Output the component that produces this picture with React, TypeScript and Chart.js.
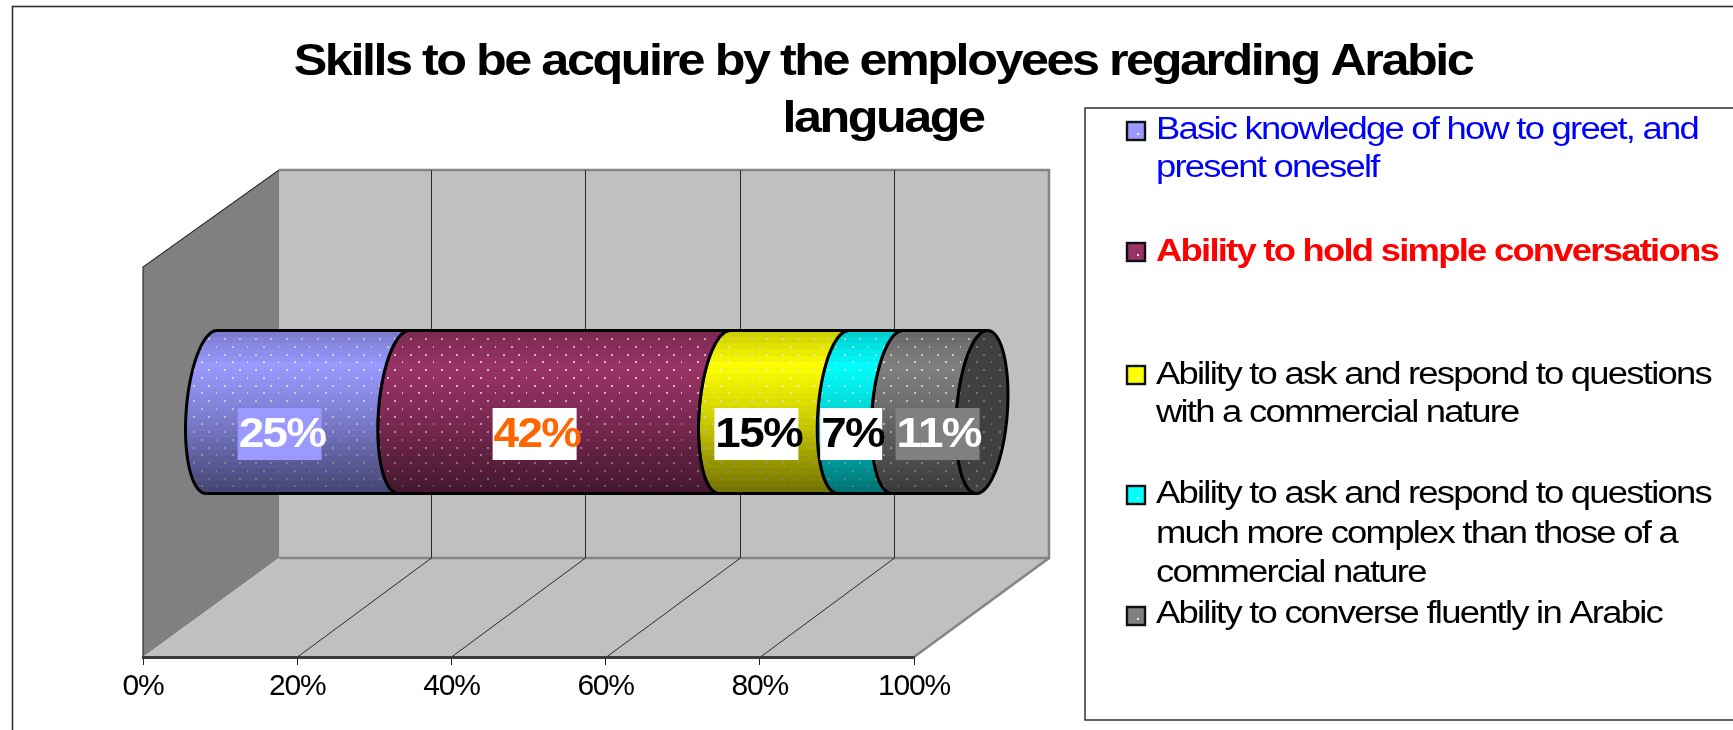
import React, { useEffect, useRef } from "react";
import { Chart, registerables } from "chart.js";

Chart.register(...registerables);

const titleLines = ["Skills to be acquire by the employees regarding Arabic", "language"];
const legendLines = [
  ["Basic knowledge of how to greet, and", "present oneself"],
  ["Ability to hold simple conversations"],
  ["Ability to ask and respond to questions", "with a commercial nature"],
  ["Ability to ask and respond to questions", "much more complex than those of a", "commercial nature"],
  ["Ability to converse fluently in Arabic"],
];
const shares = [25, 41.6, 15.4, 7, 11];
const tickValues = [0, 20, 40, 60, 80, 100];
const barColors = ["#9999FF", "#993366", "#FFFF00", "#00FFFF", "#808080"];
const legendTextColors = ["#0000FF", "#FF0000", "#000000", "#000000", "#000000"];
const legendBold = [false, true, false, false, false];
const labelBoxColors = ["#9999FF", "#FFFFFF", "#FFFFFF", "#FFFFFF", "#808080"];
const labelTextColors = ["#FFFFFF", "#FF6600", "#000000", "#000000", "#FFFFFF"];

const labelShift = [40, 38.5, 40.5, 49, 66];
const legendBaselines = [[139, 177], [261], [384, 422], [503, 543, 582], [623]];
const swatchTops = [122, 243, 366, 486, 607];

const FONT = '"Liberation Sans", Arial, sans-serif';
const DEPTH_X = 136;
const DEPTH_Y = 99;
const MID_X = 68;
const MID_Y = 50;
const ELL_A = 25.4;
const ELL_SKEW = 5.5;

function dotPattern(ctx: CanvasRenderingContext2D, alpha: number) {
  const tile = document.createElement("canvas");
  tile.width = 31;
  tile.height = 31;
  const t = tile.getContext("2d")!;
  t.fillStyle = `rgba(255,255,255,${alpha})`;
  [[7, 28], [22, 28], [15, 5], [30, 5], [7, 13], [22, 13], [15, 20], [30, 20]].forEach(([x, y]) => t.fillRect(x, y, 2, 2));
  return ctx.createPattern(tile, "repeat")!;
}

function arcPoint(cx: number, cy: number, b: number, t: number): [number, number] {
  return [cx + ELL_A * Math.cos(t) - ELL_SKEW * Math.sin(t), cy + b * Math.sin(t)];
}

function traceLeftArc(ctx: CanvasRenderingContext2D, cx: number, cy: number, b: number, fromTop: boolean, move: boolean) {
  const steps = 40;
  for (let i = 0; i <= steps; i++) {
    const f = i / steps;
    const t = fromTop ? -Math.PI / 2 - f * Math.PI : -(3 * Math.PI) / 2 + f * Math.PI;
    const [x, y] = arcPoint(cx, cy, b, t);
    if (i === 0 && move) ctx.moveTo(x, y);
    else ctx.lineTo(x, y);
  }
}

const shadeBands = (g: CanvasGradient) => {
  const bands = 26;
  for (let i = 0; i < bands; i++) {
    const f = (i + 0.5) / bands;
    let a: number;
    if (f < 0.22) a = 0.2 * (1 - f / 0.22);
    else if (f < 0.55) a = 0.2 * ((f - 0.22) / 0.33);
    else a = 0.2 + 0.36 * ((f - 0.55) / 0.45);
    g.addColorStop(i / bands, `rgba(0,0,0,${a})`);
    g.addColorStop((i + 1) / bands, `rgba(0,0,0,${a})`);
  }
};

const scenePlugin = {
  id: "scene",
  beforeDraw(chart: any) {
    const { ctx, chartArea: ca, scales } = chart;
    const xs = scales.x;
    const L = ca.left, R = ca.right, T = ca.top, B = ca.bottom;
    ctx.save();
    ctx.fillStyle = "#FFFFFF";
    ctx.fillRect(0, 0, chart.width, chart.height);
    ctx.strokeStyle = "#333333";
    ctx.lineWidth = 1.6;
    ctx.strokeRect(12.5, 6.5, 1800, 800);
    ctx.strokeStyle = "#222222";
    ctx.lineWidth = 1.4;
    ctx.strokeRect(1085, 108, 800, 612);
    ctx.fillStyle = "#C0C0C0";
    ctx.fillRect(L + DEPTH_X, T - DEPTH_Y + 2, R - L, B - T - 2);
    ctx.fillStyle = "#808080";
    ctx.beginPath();
    ctx.moveTo(L, T);
    ctx.lineTo(L + DEPTH_X, T - DEPTH_Y + 2);
    ctx.lineTo(L + DEPTH_X, B - DEPTH_Y);
    ctx.lineTo(L, B);
    ctx.closePath();
    ctx.fill();
    ctx.strokeStyle = "#333333";
    ctx.lineWidth = 1.2;
    ctx.beginPath();
    ctx.moveTo(L, B);
    ctx.lineTo(L, T);
    ctx.lineTo(L + DEPTH_X, T - DEPTH_Y + 2);
    ctx.stroke();
    ctx.fillStyle = "#C0C0C0";
    ctx.beginPath();
    ctx.moveTo(L, B);
    ctx.lineTo(R, B);
    ctx.lineTo(R + DEPTH_X - 1, B - DEPTH_Y);
    ctx.lineTo(L + DEPTH_X, B - DEPTH_Y);
    ctx.closePath();
    ctx.fill();
    ctx.strokeStyle = "#858585";
    ctx.lineWidth = 2.5;
    ctx.beginPath();
    ctx.moveTo(L + DEPTH_X, T - DEPTH_Y + 2);
    ctx.lineTo(R + DEPTH_X - 1, T - DEPTH_Y + 2);
    ctx.lineTo(R + DEPTH_X - 1, B - DEPTH_Y);
    ctx.lineTo(R, B);
    ctx.moveTo(L + DEPTH_X, B - DEPTH_Y);
    ctx.lineTo(R + DEPTH_X - 1, B - DEPTH_Y);
    ctx.stroke();
    ctx.strokeStyle = "#2a2a2a";
    ctx.lineWidth = 1;
    ctx.beginPath();
    tickValues.slice(1, -1).forEach((v) => {
      const x = Math.round(xs.getPixelForValue(v)) + 0.5;
      ctx.moveTo(x, B);
      ctx.lineTo(x + DEPTH_X - 2, B - DEPTH_Y);
      ctx.lineTo(x + DEPTH_X - 2, T - DEPTH_Y + 2);
    });
    ctx.stroke();
    ctx.restore();
    ctx.letterSpacing = "-1.2px";
  },
  afterLayout(chart: any) {
    const tb = chart.titleBlock;
    tb.left = 0;
    tb.right = 1766;
    if (!tb.__wrapped) {
      const orig = tb.draw.bind(tb);
      tb.draw = () => {
        const c = chart.ctx;
        c.save();
        c.letterSpacing = "-2.2px";
        c.translate(883, 0);
        c.scale(1.118, 1);
        c.translate(-883, 0);
        orig();
        c.restore();
      };
      tb.__wrapped = true;
    }
  },
  beforeDatasetDraw(chart: any, args: any) {
    const { ctx } = chart;
    const i = args.index;
    const el = args.meta.data[0];
    const cy = el.y - MID_Y;
    const b = el.height / 2;
    const x0 = el.base + MID_X;
    const x1 = el.x + MID_X;
    const overlay = ctx.createLinearGradient(0, cy - b, 0, cy + b);
    shadeBands(overlay);
    ctx.save();
    ctx.letterSpacing = "0px";
    ctx.beginPath();
    traceLeftArc(ctx, x0, cy, b, true, true);
    traceLeftArc(ctx, x1, cy, b, false, false);
    ctx.closePath();
    ctx.fillStyle = barColors[i];
    ctx.fill();
    ctx.fillStyle = dotPattern(ctx, 0.7);
    ctx.fill();
    ctx.fillStyle = overlay;
    ctx.fill();
    ctx.strokeStyle = "#000000";
    ctx.lineWidth = 3;
    ctx.lineJoin = "round";
    ctx.stroke();
    if (i === shares.length - 1) {
      ctx.beginPath();
      for (let s = 0; s <= 80; s++) {
        const [px, py] = arcPoint(x1, cy, b, (s / 80) * Math.PI * 2);
        if (s === 0) ctx.moveTo(px, py);
        else ctx.lineTo(px, py);
      }
      ctx.closePath();
      ctx.fillStyle = "#404040";
      ctx.fill();
      ctx.fillStyle = dotPattern(ctx, 0.28);
      ctx.fill();
      ctx.stroke();
    }
    ctx.restore();
    return false;
  },
  afterDatasetsDraw(chart: any) {
    const { ctx } = chart;
    ctx.save();
    ctx.textBaseline = "middle";
    ctx.textAlign = "left";
    shares.forEach((v, i) => {
      const el = chart.getDatasetMeta(i).data[0];
      const text = `${Math.round(v)}%`;
      ctx.font = `bold 42px ${FONT}`;
      ctx.letterSpacing = "-1.5px";
      const boxW = v < 10 ? 62 : 84;
      const cx = (el.base + el.x) / 2 + labelShift[i];
      const cy = el.y - 28;
      ctx.fillStyle = labelBoxColors[i];
      ctx.fillRect(cx - boxW / 2, cy - 26, boxW, 52);
      ctx.save();
      ctx.translate(cx - boxW / 2 + 1, cy + 1);
      ctx.scale(1.09, 1);
      ctx.fillStyle = labelTextColors[i];
      ctx.fillText(text, 0, 0);
      ctx.restore();
    });
    ctx.textBaseline = "alphabetic";
    legendLines.forEach((lines, i) => {
      const top = swatchTops[i];
      ctx.fillStyle = barColors[i];
      ctx.fillRect(1127, top, 18, 18);
      ctx.strokeStyle = "#111111";
      ctx.lineWidth = 2.4;
      ctx.strokeRect(1127, top, 18, 18);
      ctx.fillStyle = "rgba(255,255,255,0.85)";
      ctx.fillRect(1137, top + 11, 2, 2);
      ctx.fillStyle = legendTextColors[i];
      ctx.font = `${legendBold[i] ? "bold " : ""}31px ${FONT}`;
      ctx.letterSpacing = "-1.5px";
      lines.forEach((line, j) => {
        ctx.save();
        ctx.translate(1156, legendBaselines[i][j]);
        ctx.scale(1.175, 1);
        ctx.fillText(line, 0, 0);
        ctx.restore();
      });
    });
    ctx.restore();
  },
};

export default function App() {
  const ref = useRef<HTMLCanvasElement | null>(null);
  useEffect(() => {
    if (!ref.current) return;
    const chart = new Chart(ref.current, {
      type: "bar",
      plugins: [scenePlugin],
      data: {
        labels: [""],
        datasets: shares.map((v, i) => ({
          label: legendLines[i].join(" "),
          data: [v],
          backgroundColor: barColors[i],
          barThickness: 163,
          stack: "all",
        })),
      },
      options: {
        indexAxis: "y",
        responsive: false,
        animation: false,
        layout: { padding: { left: 143, right: 819, top: 0, bottom: 0 } },
        plugins: {
          legend: { display: false },
          tooltip: { enabled: false },
          title: {
            display: true,
            text: titleLines,
            color: "#000000",
            font: { family: FONT, size: 45, weight: "bold", lineHeight: "57px" },
            padding: { top: 34, bottom: 119 },
          },
        },
        scales: {
          x: {
            type: "linear",
            stacked: true,
            min: 0,
            max: 100,
            afterFit: (s: any) => {
              s.height = 73;
            },
            afterBuildTicks: (s: any) => {
              s.ticks = tickValues.map((value) => ({ value }));
            },
            ticks: {
              callback: (v: any) => `${v}%`,
              color: "#000000",
              font: { family: FONT, size: 30 },
              maxRotation: 0,
              padding: 4,
            },
            grid: { drawOnChartArea: false, drawTicks: true, tickLength: 8, color: "#222222" },
            border: { display: true, color: "#3a3a3a", width: 3 },
          },
          y: { type: "category", stacked: true, display: false },
        },
      },
    } as any);
    return () => chart.destroy();
  }, []);
  return (
    <canvas
      ref={ref}
      width={1733}
      height={730}
      style={{ position: "absolute", left: 0, top: 0, width: 1733, height: 730 }}
    />
  );
}
